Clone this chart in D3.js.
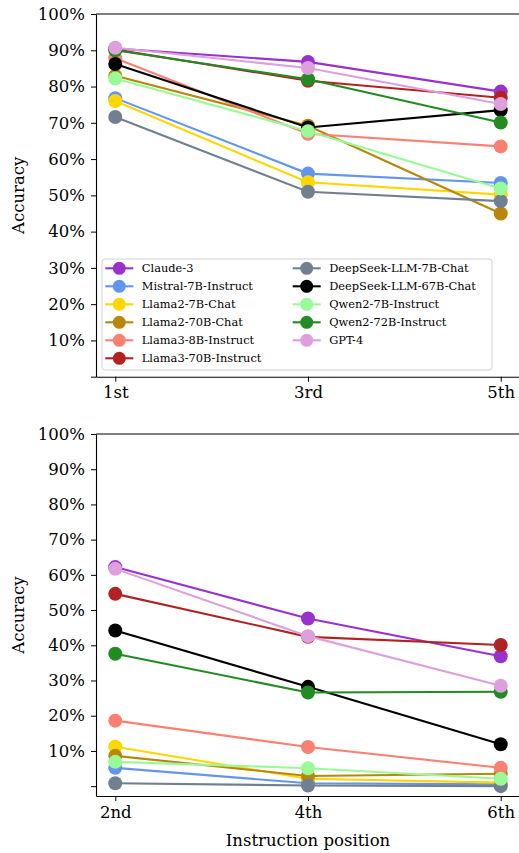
<!DOCTYPE html>
<html>
<head>
<meta charset="utf-8">
<script src="https://cdn.jsdelivr.net/npm/d3@7"></script>
<style>
  body { margin: 0; background: #fff; }
  text { font-family: "DejaVu Serif", serif; fill: #000; }
</style>
</head>
<body>
<div id="main"></div>
<script>
// data
const models = ["Claude-3", "Mistral-7B-Instruct", "Llama2-7B-Chat", "Llama2-70B-Chat",
  "Llama3-8B-Instruct", "Llama3-70B-Instruct", "DeepSeek-LLM-7B-Chat",
  "DeepSeek-LLM-67B-Chat", "Qwen2-7B-Instruct", "Qwen2-72B-Instruct", "GPT-4"];
const colors = ["#9932cc", "#6495ed", "#ffd700", "#b8860b", "#fa8072", "#b22222",
  "#708090", "#000000", "#98fb98", "#228b22", "#dda0dd"];

const topPositions = ["1st", "3rd", "5th"];
const bottomPositions = ["2nd", "4th", "6th"];

// accuracy (%) per model, one value per position
const topAcc = [
  [90.5, 86.8, 78.6],
  [76.8, 56.0, 53.4],
  [76.0, 53.6, 50.2],
  [83.0, 69.2, 45.0],
  [87.8, 67.0, 63.5],
  [90.2, 81.6, 76.9],
  [71.6, 51.0, 48.4],
  [86.2, 68.7, 73.5],
  [82.2, 67.7, 51.9],
  [90.0, 82.0, 70.1],
  [90.7, 85.1, 75.2]
];
const bottomAcc = [
  [62.2, 47.6, 36.9],
  [5.2, 0.8, 0.5],
  [11.2, 2.1, 1.0],
  [8.6, 2.9, 3.5],
  [18.6, 11.1, 5.2],
  [54.6, 42.4, 40.1],
  [0.8, 0.2, 0.0],
  [44.2, 28.2, 11.9],
  [6.9, 5.1, 2.1],
  [37.6, 26.6, 26.8],
  [61.7, 42.6, 28.5]
];

const yTicks = [0, 10, 20, 30, 40, 50, 60, 70, 80, 90, 100];

const width = 519, height = 853;
const left = 96, right = 520;

const svg = d3.select("#main").append("svg")
  .attr("width", width)
  .attr("height", height);

function panel(cfg) {
  const x = d3.scalePoint()
    .domain(cfg.positions)
    .range([left, right])
    .padding(0.1);

  const y = d3.scaleLinear()
    .domain(cfg.yDomain)
    .range([cfg.bottom, cfg.top]);

  const g = svg.append("g");

  // lines + markers
  cfg.values.forEach((vals, i) => {
    const pts = vals.map((v, j) => [x(cfg.positions[j]), y(v)]);
    g.append("path")
      .attr("d", d3.line()(pts))
      .attr("fill", "none")
      .attr("stroke", colors[i])
      .attr("stroke-width", 2.1);
    g.selectAll(null)
      .data(pts)
      .join("circle")
      .attr("cx", d => d[0])
      .attr("cy", d => d[1])
      .attr("r", 7)
      .attr("fill", colors[i]);
  });

  // spines
  g.append("line")
    .attr("x1", left).attr("x2", right)
    .attr("y1", cfg.top).attr("y2", cfg.top)
    .attr("stroke", "#000").attr("stroke-width", 1.1);

  const xAxis = g.append("g")
    .attr("transform", `translate(0,${cfg.bottom})`)
    .call(d3.axisBottom(x).tickSize(5).tickPadding(5).tickSizeOuter(0));
  xAxis.select(".domain").attr("stroke-width", 1.1);
  xAxis.selectAll("text").attr("font-size", 16.5);

  const yAxis = g.append("g")
    .attr("transform", `translate(${left},0)`)
    .call(d3.axisLeft(y).tickValues(yTicks).tickSize(5).tickPadding(6).tickSizeOuter(0)
      .tickFormat(d => d === 0 ? "" : d + "%"));
  yAxis.select(".domain").attr("stroke-width", 1.1);
  yAxis.selectAll("text").attr("font-size", 16.5);

  g.append("text")
    .attr("transform", `translate(24,${(cfg.top + cfg.bottom) / 2}) rotate(-90)`)
    .attr("text-anchor", "middle")
    .attr("font-size", 16.5)
    .text("Accuracy");

  return g;
}

const topPanel = panel({
  positions: topPositions, values: topAcc,
  top: 14, bottom: 376.7, yDomain: [0, 100]
});

panel({
  positions: bottomPositions, values: bottomAcc,
  top: 434, bottom: 796, yDomain: [-2.8, 100]
});

svg.append("text")
  .attr("x", 308)
  .attr("y", 846)
  .attr("text-anchor", "middle")
  .attr("font-size", 16.5)
  .text("Instruction position");

// legend in the top panel
const legend = topPanel.append("g");
legend.append("rect")
  .attr("x", 102).attr("y", 259)
  .attr("width", 390).attr("height", 111)
  .attr("rx", 3)
  .attr("fill", "#fff").attr("fill-opacity", 0.8)
  .attr("stroke", "#d0d0d0");

models.forEach((m, i) => {
  const col = i < 6 ? 0 : 1;
  const row = i < 6 ? i : i - 6;
  const cx = col === 0 ? 119.3 : 306.7;
  const cy = 268.3 + row * 18;
  legend.append("line")
    .attr("x1", cx - 14).attr("x2", cx + 14)
    .attr("y1", cy).attr("y2", cy)
    .attr("stroke", colors[i]).attr("stroke-width", 2.1);
  legend.append("circle")
    .attr("cx", cx).attr("cy", cy).attr("r", 6.5)
    .attr("fill", colors[i]);
  legend.append("text")
    .attr("x", cx + 22.5)
    .attr("y", cy)
    .attr("dy", "0.35em")
    .attr("font-size", 11.4)
    .text(m);
});
</script>
</body>
</html>
